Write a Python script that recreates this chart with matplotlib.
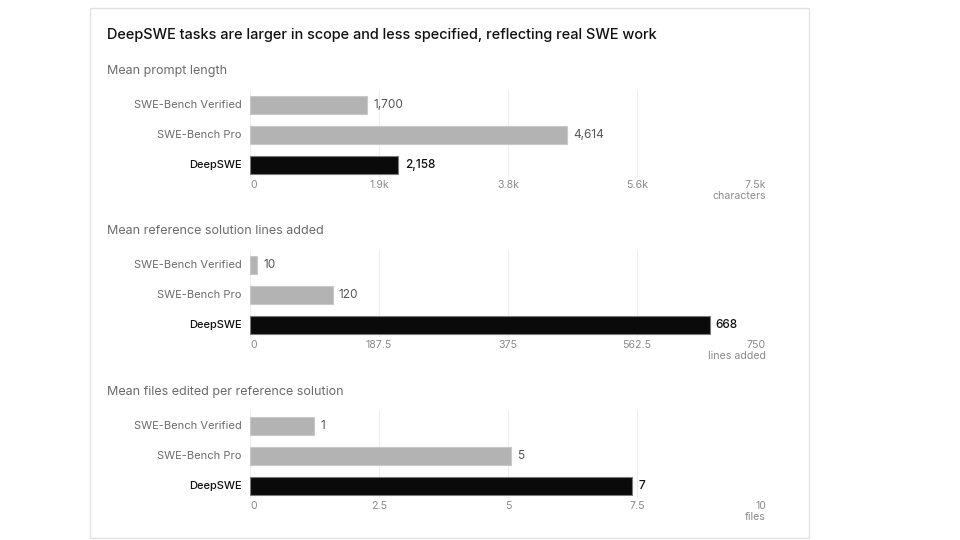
import matplotlib.pyplot as plt
from matplotlib.patches import Rectangle
from matplotlib.transforms import blended_transform_factory

plt.rcParams['font.family'] = ['Inter', 'DejaVu Sans']

categories = ["SWE-Bench Verified", "SWE-Bench Pro", "DeepSWE"]

prompt_len = [1700, 4614, 2158]
prompt_labels = ["1,700", "4,614", "2,158"]
prompt_ticks = [0, 1875, 3750, 5625, 7500]
prompt_tick_labels = ["0", "1.9k", "3.8k", "5.6k", "7.5k"]

lines_added = [10, 120, 668]
lines_labels = ["10", "120", "668"]
lines_ticks = [0, 187.5, 375, 562.5, 750]
lines_tick_labels = ["0", "187.5", "375", "562.5", "750"]

files_edited = [1.24, 5.06, 7.4]
files_labels = ["1", "5", "7"]
files_ticks = [0, 2.5, 5, 7.5, 10]
files_tick_labels = ["0", "2.5", "5", "7.5", "10"]

title = "DeepSWE tasks are larger in scope and less specified, reflecting real SWE work"
panels = [
  ("Mean prompt length", prompt_len, prompt_labels, prompt_ticks, prompt_tick_labels, "characters"),
  ("Mean reference solution lines added", lines_added, lines_labels, lines_ticks, lines_tick_labels, "lines added"),
  ("Mean files edited per reference solution", files_edited, files_labels, files_ticks, files_tick_labels, "files"),
]

W, H = 960, 540
fig = plt.figure(figsize=(9.6, 5.4), dpi=100)
fig.patch.set_facecolor("white")

# card border
fig.add_artist(Rectangle((90 / W, 1 - 538 / H), 719 / W, 530 / H, transform=fig.transFigure,
                         facecolor="white", edgecolor="#e2e2e2", linewidth=1.0, zorder=0))

fig.text(107 / W, 1 - 35.5 / H, title, fontsize=10.45, color="#111111", va="center", ha="left",
         fontweight="medium")

GRAY = "#b3b3b3"
DARK = "#0a0a0a"
offsets = [0, 160, 321]

for (sub, vals, labs, ticks, tlabs, unit), off in zip(panels, offsets):
  fig.text(107 / W, 1 - (71 + off) / H, sub, fontsize=9, color="#6b6b6b", va="center", ha="left")

  top = 90 + off
  bottom = 177 + off
  ax = fig.add_axes([250 / W, 1 - bottom / H, 516 / W, (bottom - top) / H])
  ax.set_xlim(ticks[0], ticks[-1])
  ax.set_ylim(2.4, -0.5)
  for s in ax.spines.values():
    s.set_visible(False)
  ax.set_xticks([])
  ax.set_yticks([])
  for t in ticks:
    ax.axvline(t, color="#eeeeee", linewidth=0.8, zorder=0)

  for i, (cat, v, lab) in enumerate(zip(categories, vals, labs)):
    deep = (cat == "DeepSWE")
    ax.barh(i, v, height=0.6, color=DARK if deep else GRAY,
            edgecolor="#7a7a7a" if deep else "#c8c8c8", linewidth=0.8, zorder=2)
    ax.annotate(lab, (v, i), xytext=(4.5, 0), textcoords="offset points", va="center", ha="left",
                fontsize=8.5, color="#111111" if deep else "#555555",
                fontweight="medium" if deep else "normal")
    ax.annotate(cat, (0, i), xycoords=("axes fraction", "data"), xytext=(-6, 0),
                textcoords="offset points", va="center", ha="right", fontsize=8,
                color="#111111" if deep else "#6b6b6b",
                fontweight="medium" if deep else "normal")

  tr = blended_transform_factory(ax.transData, ax.transAxes)
  for j, (t, tl) in enumerate(zip(ticks, tlabs)):
    ha = "left" if j == 0 else ("right" if j == len(ticks) - 1 else "center")
    ax.annotate(tl, (t, 0), xycoords=tr, xytext=(0, -5.5), textcoords="offset points",
                va="center", ha=ha, fontsize=7.6, color="#8a8a8a")
  ax.annotate(unit, (ticks[-1], 0), xycoords=tr, xytext=(0, -14), textcoords="offset points",
              va="center", ha="right", fontsize=7.6, color="#8a8a8a")

fig.savefig("out.png", dpi=100, facecolor="white")
